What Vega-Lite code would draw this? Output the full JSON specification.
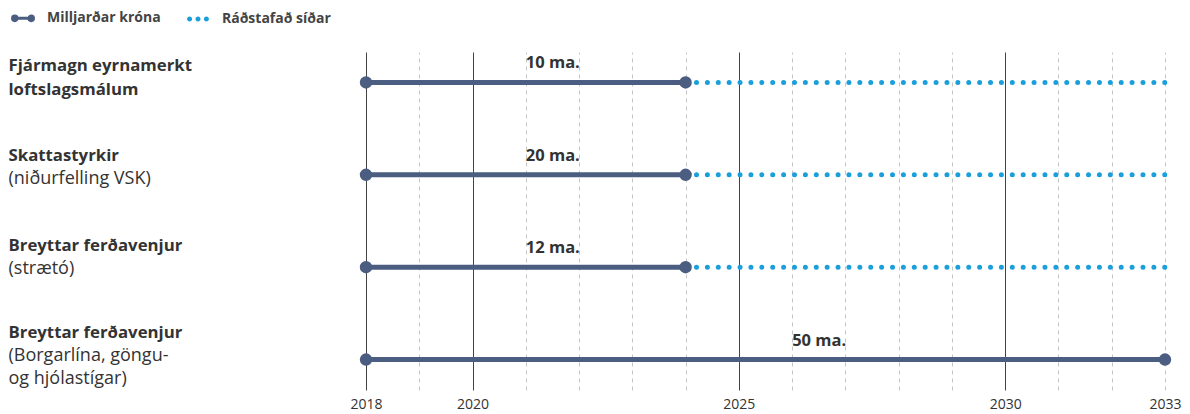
{
  "$schema": "https://vega.github.io/schema/vega-lite/v6.json",
  "width": 799,
  "height": 338,
  "autosize": {"type": "none"},
  "padding": {"left": 366, "top": 52, "right": 25, "bottom": 24},
  "background": "white",
  "config": {"view": {"stroke": null}, "font": "Open Sans"},
  "data": {
    "values": [
      {"row": "Fjármagn eyrnamerkt|loftslagsmálum#", "start": 2018, "funded": 2024, "later": 2033, "amount": "10 ma.", "labelYear": 2021},
      {"row": "Skattastyrkir#(niðurfelling VSK)", "start": 2018, "funded": 2024, "later": 2033, "amount": "20 ma.", "labelYear": 2021},
      {"row": "Breyttar ferðavenjur#(strætó)", "start": 2018, "funded": 2024, "later": 2033, "amount": "12 ma.", "labelYear": 2021},
      {"row": "Breyttar ferðavenjur#(Borgarlína, göngu-|og hjólastígar)", "start": 2018, "funded": 2033, "later": null, "amount": "50 ma.", "labelYear": 2026}
    ]
  },
  "resolve": {"scale": {"y": "independent"}, "axis": {"y": "independent"}},
  "layer": [
    {
      "layer": [
        {
          "mark": {"type": "rule", "strokeWidth": 5},
          "encoding": {
            "x": {
              "field": "start", "type": "quantitative",
              "scale": {"domain": [2018, 2033], "nice": false, "zero": false},
              "axis": {
                "title": null, "domain": false, "ticks": false, "grid": true,
                "values": [2018, 2019, 2020, 2021, 2022, 2023, 2024, 2025, 2026, 2027, 2028, 2029, 2030, 2031, 2032, 2033],
                "format": "d",
                "labelExpr": "indexof([2018, 2020, 2025, 2030, 2033], datum.value) >= 0 ? datum.label : ''",
                "labelFont": "Open Sans", "labelFontSize": 14, "labelColor": "#333", "labelPadding": 7,
                "labelOverlap": false, "labelFlush": false,
                "gridColor": {"condition": {"test": "indexof([2018, 2020, 2025, 2030], datum.value) >= 0", "value": "#444"}, "value": "#c4c4c4"},
                "gridDash": {"condition": {"test": "indexof([2018, 2020, 2025, 2030], datum.value) >= 0", "value": []}, "value": [4, 4]},
                "gridWidth": 1
              }
            },
            "x2": {"field": "funded"},
            "y": {
              "field": "row", "type": "nominal", "sort": null,
              "scale": {"type": "point", "padding": 0.33},
              "axis": {
                "orient": "left", "title": null, "domain": false, "ticks": false, "grid": false,
                "labelAlign": "left", "labelPadding": 358, "labelBaseline": "alphabetic",
                "labelFont": "Open Sans", "labelFontSize": 16.8, "labelFontWeight": "bold", "labelColor": "#333",
                "labelLineHeight": 24, "labelLimit": 0, "labelOverlap": false, "labelBound": false,
                "labelExpr": "split(split(datum.value, '#')[0], '|')",
                "labelOffset": {"condition": [
                  {"test": "indexof(datum.value, 'Fjármagn') >= 0", "value": -12},
                  {"test": "indexof(datum.value, 'strætó') >= 0", "value": -17},
                  {"test": "indexof(datum.value, 'Borgarl') >= 0", "value": -22}
                ], "value": -14}
              }
            },
            "color": {
              "datum": "Milljarðar króna",
              "scale": {"domain": ["Milljarðar króna", "Ráðstafað síðar"], "range": ["#4b5d80", "#1a9fdb"]},
              "legend": {
                "title": null, "orient": "none", "legendX": -350, "legendY": -41, "direction": "horizontal",
                "symbolSize": 441, "symbolStrokeWidth": 3, "columnPadding": 26,
                "labelFont": "Open Sans", "labelFontSize": 14, "labelFontWeight": "bold", "labelColor": "#444", "labelOffset": 17,
                "encode": {
                  "symbols": {
                    "update": {
                      "shape": {"signal": "datum.value === 'Milljarðar króna' ? 'M-0.8,0H0.8M-1,0a0.22,0.22 0 1,0 0.44,0a0.22,0.22 0 1,0 -0.44,0M0.56,0a0.22,0.22 0 1,0 0.44,0a0.22,0.22 0 1,0 -0.44,0' : 'M-1.04,0a0.24,0.24 0 1,0 0.48,0a0.24,0.24 0 1,0 -0.48,0M-0.24,0a0.24,0.24 0 1,0 0.48,0a0.24,0.24 0 1,0 -0.48,0M0.56,0a0.24,0.24 0 1,0 0.48,0a0.24,0.24 0 1,0 -0.48,0'"},
                      "fill": {"signal": "scale('color', datum.value)"},
                      "stroke": {"signal": "scale('color', datum.value)"},
                      "strokeWidth": {"signal": "datum.value === 'Milljarðar króna' ? 3 : 0"},
                      "strokeDash": {"value": []},
                      "opacity": {"value": 1}
                    }
                  }
                }
              }
            }
          }
        },
        {
          "transform": [{"filter": "datum.later != null"}],
          "mark": {"type": "rule", "strokeWidth": 5, "strokeDash": [0, 10.89], "strokeCap": "round"},
          "encoding": {
            "x": {"field": "funded", "type": "quantitative"},
            "x2": {"field": "later"},
            "y": {"field": "row", "type": "nominal", "sort": null},
            "color": {"datum": "Ráðstafað síðar"}
          }
        },
        {
          "mark": {"type": "circle", "size": 154, "opacity": 1},
          "encoding": {
            "x": {"field": "start", "type": "quantitative"},
            "y": {"field": "row", "type": "nominal", "sort": null},
            "color": {"value": "#4b5d80"}
          }
        },
        {
          "mark": {"type": "circle", "size": 154, "opacity": 1},
          "encoding": {
            "x": {"field": "funded", "type": "quantitative"},
            "y": {"field": "row", "type": "nominal", "sort": null},
            "color": {"value": "#4b5d80"}
          }
        }
      ]
    },
    {
      "mark": {"type": "text", "align": "left", "baseline": "alphabetic", "dy": -14, "font": "Open Sans", "fontSize": 16.5, "fontWeight": "bold", "color": "#333"},
      "encoding": {
        "x": {"field": "labelYear", "type": "quantitative"},
        "y": {
          "field": "row", "type": "nominal", "sort": null,
          "scale": {"type": "point", "padding": 0.33},
          "axis": {
            "orient": "left", "title": null, "domain": false, "ticks": false, "grid": false,
            "labelAlign": "left", "labelPadding": 358, "labelBaseline": "alphabetic",
            "labelFont": "Open Sans", "labelFontSize": 18, "labelFontWeight": "normal", "labelColor": "#333",
            "labelLineHeight": 23, "labelLimit": 0, "labelOverlap": false, "labelBound": false,
            "labelExpr": "split(split(datum.value, '#')[1], '|')",
            "labelOffset": {"condition": [
              {"test": "indexof(datum.value, 'strætó') >= 0", "value": 6},
              {"test": "indexof(datum.value, 'Borgarl') >= 0", "value": 1}
            ], "value": 9}
          }
        },
        "text": {"field": "amount"}
      }
    }
  ]
}
